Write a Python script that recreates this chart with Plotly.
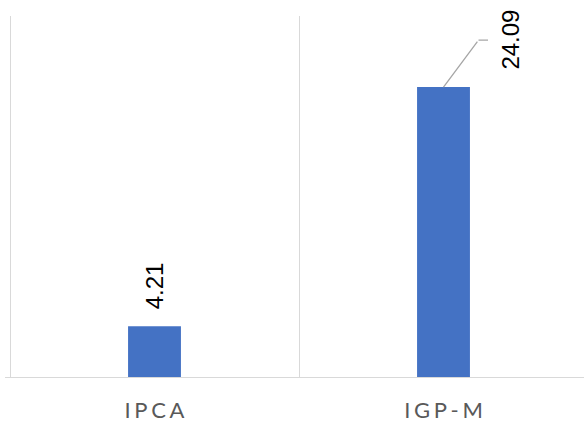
import plotly.graph_objects as go

categories = ["IPCA", "IGP-M"]
values = [4.21, 24.09]
tick_labels = ["I\u2006P\u2006C\u2006A", "I\u2006G\u2006P\u2006-\u2006M"]

fig = go.Figure()
fig.add_trace(go.Bar(
    x=categories, y=values, width=0.183,
    marker=dict(color="#4472C4", line=dict(width=0)),
    hoverinfo="skip",
))

vfont = dict(family="Liberation Sans", size=24, color="#000000")

# IPCA value label
fig.add_annotation(
    x=categories[0], y=values[0], text=f"{values[0]:.2f}",
    textangle=-90, showarrow=False, yanchor="bottom", xanchor="center",
    yshift=15, font=vfont,
)
# IGP-M leader line (diagonal part)
fig.add_annotation(
    x=categories[1], y=values[1], text="", font=dict(size=1),
    showarrow=True, arrowhead=0, arrowwidth=1.3, arrowcolor="#A6A6A6",
    ax=35, ay=-47, standoff=0, startstandoff=0,
)
# IGP-M leader line (horizontal stub)
fig.add_annotation(
    x=categories[1], y=values[1], text="", font=dict(size=1),
    xshift=35, yshift=47,
    showarrow=True, arrowhead=0, arrowwidth=1.3, arrowcolor="#A6A6A6",
    ax=11, ay=0, standoff=0, startstandoff=0,
)
# IGP-M value label
fig.add_annotation(
    x=categories[1], y=values[1], text=f"{values[1]:.2f}",
    textangle=-90, showarrow=False, xanchor="center", yanchor="middle",
    xshift=67, yshift=47, font=vfont,
)

L = 5
unit = 289.0
a = -0.5 - (10 - L) / unit
b = a + (584 - L) / unit

fig.update_layout(
    width=584, height=423,
    margin=dict(l=L, r=0, t=16, b=46),
    paper_bgcolor="white", plot_bgcolor="white",
    showlegend=False,
    xaxis=dict(
        type="category", range=[a, b],
        tickson="boundaries", showgrid=True, gridcolor="#D9D9D9", gridwidth=1,
        ticks="", tickvals=categories, ticktext=tick_labels,
        showline=True, linecolor="#D9D9D9", linewidth=1,
        ticklabelstandoff=14,
        tickfont=dict(family="Lato", size=22, color="#595959"),
        fixedrange=True,
    ),
    yaxis=dict(
        range=[0, 30], showgrid=False, zeroline=False,
        showticklabels=False, ticks="", fixedrange=True,
    ),
)

fig.write_html("out.html", config={"displayModeBar": False},
               post_script="document.body.style.margin='0';")
